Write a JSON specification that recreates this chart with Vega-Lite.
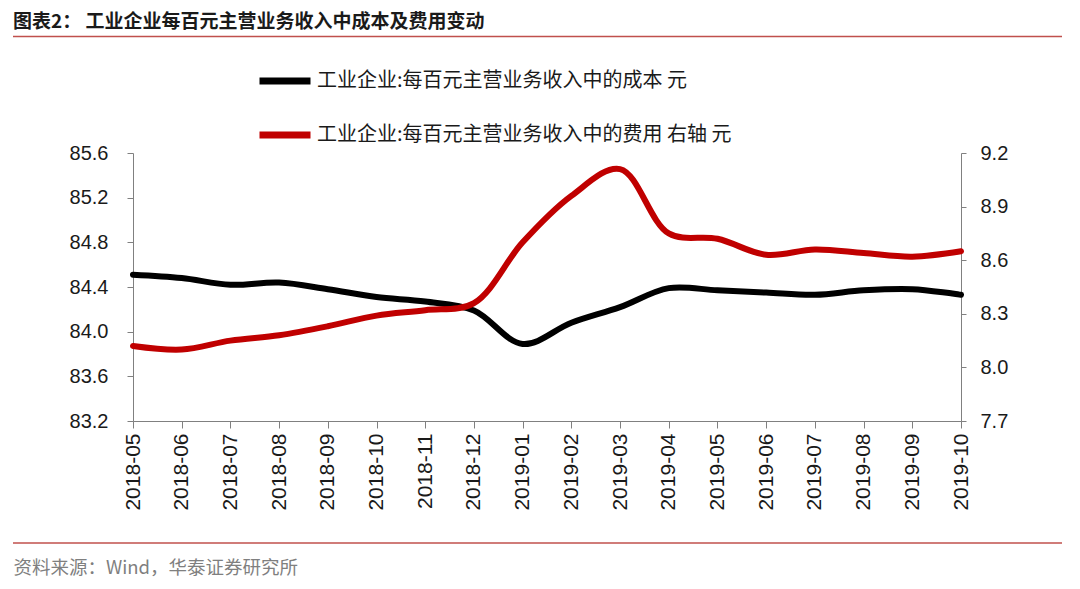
{
  "$schema": "https://vega.github.io/schema/vega-lite/v6.json",
  "width": 828,
  "height": 268,
  "autosize": {"type": "none"},
  "padding": {"left": 133, "top": 153, "right": 119, "bottom": 168},
  "background": "white",
  "config": {
    "view": {"stroke": null},
    "axis": {"grid": false, "domainColor": "#808080", "tickColor": "#808080", "labelFont": "Liberation Sans", "labelColor": "#1a1a1a"}
  },
  "title": {
    "text": "图表2： 工业企业每百元主营业务收入中成本及费用变动",
    "anchor": "start",
    "frame": "group",
    "dx": -120,
    "font": "Noto Sans CJK SC",
    "fontSize": 19,
    "fontWeight": "bold",
    "color": "#1a1a1a"
  },
  "data": {
    "values": [
      {"month": "2018-05", "cost": 84.51, "expense": 8.12},
      {"month": "2018-06", "cost": 84.48, "expense": 8.10},
      {"month": "2018-07", "cost": 84.42, "expense": 8.15},
      {"month": "2018-08", "cost": 84.44, "expense": 8.18},
      {"month": "2018-09", "cost": 84.38, "expense": 8.23},
      {"month": "2018-10", "cost": 84.31, "expense": 8.29},
      {"month": "2018-11", "cost": 84.27, "expense": 8.32},
      {"month": "2018-12", "cost": 84.19, "expense": 8.36},
      {"month": "2019-01", "cost": 83.89, "expense": 8.70},
      {"month": "2019-02", "cost": 84.08, "expense": 8.96},
      {"month": "2019-03", "cost": 84.22, "expense": 9.11},
      {"month": "2019-04", "cost": 84.39, "expense": 8.75},
      {"month": "2019-05", "cost": 84.37, "expense": 8.72},
      {"month": "2019-06", "cost": 84.35, "expense": 8.63},
      {"month": "2019-07", "cost": 84.33, "expense": 8.66},
      {"month": "2019-08", "cost": 84.37, "expense": 8.64},
      {"month": "2019-09", "cost": 84.38, "expense": 8.62},
      {"month": "2019-10", "cost": 84.33, "expense": 8.65}
    ]
  },
  "layer": [
    {
      "mark": {"type": "line", "strokeWidth": 6, "interpolate": "catmull-rom", "strokeCap": "round"},
      "encoding": {
        "x": {
          "field": "month", "type": "ordinal",
          "scale": {"type": "point", "padding": 0},
          "axis": {
            "labelAngle": -90, "labelFontSize": 21, "tickSize": 7, "labelPadding": 5,
            "title": "资料来源：Wind，华泰证券研究所",
            "titleFont": "Noto Sans CJK SC", "titleFontSize": 18.5, "titleFontWeight": "normal",
            "titleColor": "#7f7f7f", "titleX": -120, "titleY": 146, "titleAlign": "left", "titleBaseline": "middle"
          }
        },
        "y": {
          "field": "cost", "type": "quantitative",
          "scale": {"domain": [83.2, 85.6], "zero": false, "nice": false},
          "axis": {"values": [83.2, 83.6, 84.0, 84.4, 84.8, 85.2, 85.6], "format": ".1f", "title": null, "labelFontSize": 20, "tickSize": 6, "labelPadding": 19}
        },
        "color": {
          "datum": "工业企业:每百元主营业务收入中的成本 元",
          "scale": {
            "domain": ["工业企业:每百元主营业务收入中的成本 元", "工业企业:每百元主营业务收入中的费用 右轴 元"],
            "range": ["#000000", "#C00000"]
          },
          "legend": {
            "orient": "none", "legendX": 123, "legendY": -101, "title": null,
            "symbolType": "stroke", "symbolSize": 2601, "symbolStrokeWidth": 7,
            "labelFont": "Noto Sans CJK SC", "labelFontSize": 20, "labelColor": "#1a1a1a",
            "labelOffset": 3, "labelLimit": 0, "rowPadding": 11, "padding": 0
          }
        }
      }
    },
    {
      "mark": {"type": "line", "strokeWidth": 6, "interpolate": "catmull-rom", "strokeCap": "round"},
      "encoding": {
        "x": {"field": "month", "type": "ordinal", "scale": {"type": "point", "padding": 0}},
        "y": {
          "field": "expense", "type": "quantitative",
          "scale": {"domain": [7.7, 9.2], "zero": false, "nice": false},
          "axis": {"orient": "right", "values": [7.7, 8.0, 8.3, 8.6, 8.9, 9.2], "format": ".1f", "title": null, "labelFontSize": 20, "tickSize": 5, "labelPadding": 14}
        },
        "color": {"datum": "工业企业:每百元主营业务收入中的费用 右轴 元"}
      }
    },
    {
      "data": {"values": [{"line": "header"}]},
      "mark": {"type": "rule", "color": "#C0504D", "strokeWidth": 1.5},
      "encoding": {"x": {"value": -120}, "x2": {"value": 929}, "y": {"value": -116.5}}
    },
    {
      "data": {"values": [{"line": "footer"}]},
      "mark": {"type": "rule", "color": "#C0504D", "strokeWidth": 1.5},
      "encoding": {"x": {"value": -120}, "x2": {"value": 929}, "y": {"value": 390}}
    }
  ],
  "resolve": {"scale": {"y": "independent"}, "axis": {"y": "independent"}}
}
